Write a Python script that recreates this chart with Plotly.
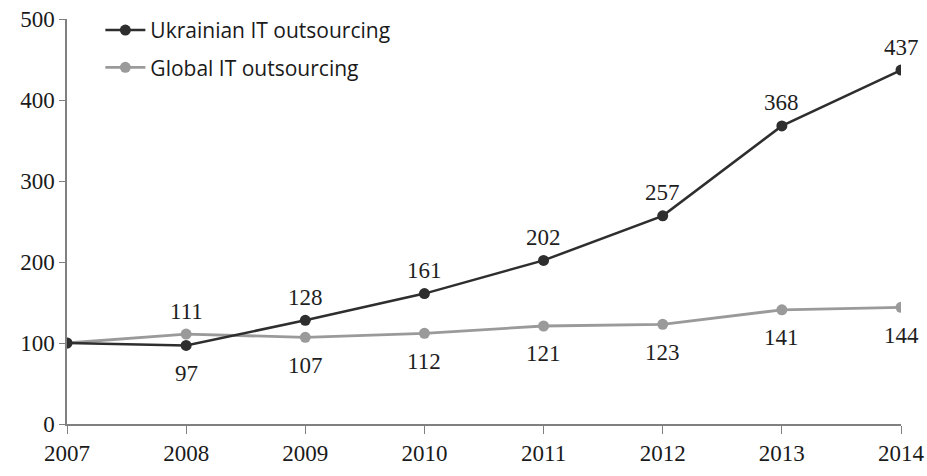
import plotly.graph_objects as go

years = [2007, 2008, 2009, 2010, 2011, 2012, 2013, 2014]
ukrainian = [100, 97, 128, 161, 202, 257, 368, 437]
global_it = [100, 111, 107, 112, 121, 123, 141, 144]
y_ticks = [0, 100, 200, 300, 400, 500]

# label placement: True = above the point, False = below
ukr_above = [None, False, True, True, True, True, True, True]
glb_above = [None, True, False, False, False, False, False, False]

serif = "Liberation Serif"
UKR_C = "#2e2e2e"
GLB_C = "#9a9a9a"

fig = go.Figure()
fig.add_trace(go.Scatter(
    x=years, y=global_it, mode="lines+markers", name="Global IT outsourcing",
    line=dict(color=GLB_C, width=2.8), marker=dict(color=GLB_C, size=11),
    legendgroup="g", legendrank=2,
))
fig.add_trace(go.Scatter(
    x=years, y=ukrainian, mode="lines+markers", name="Ukrainian IT outsourcing",
    line=dict(color=UKR_C, width=2.5), marker=dict(color=UKR_C, size=11),
    legendgroup="u", legendrank=1,
))

annotations = []
for xs, ys, flags in [(years, ukrainian, ukr_above), (years, global_it, glb_above)]:
    for x, y, a in zip(xs, ys, flags):
        if a is None:
            continue
        annotations.append(dict(
            x=x, y=y, xref="x", yref="y", text=str(y), showarrow=False,
            yshift=23 if a else -28, xanchor="center", yanchor="middle",
            font=dict(family=serif, size=23, color="#1e1e1e"),
        ))

fig.update_layout(
    width=927, height=476,
    margin=dict(l=67, r=26, t=19, b=52, autoexpand=False),
    paper_bgcolor="white", plot_bgcolor="white",
    showlegend=True,
    annotations=annotations,
    legend=dict(x=0.04, xanchor="left", y=1.0225, yanchor="top",
                font=dict(family="Open Sans", size=21, color="#1a1a1a"),
                tracegroupgap=7, bgcolor="rgba(0,0,0,0)", itemwidth=40),
    xaxis=dict(range=[2007, 2014], tickvals=years, ticktext=[str(y) for y in years],
               showgrid=False, zeroline=False, showline=True, linecolor="#808080", linewidth=1.5,
               ticks="outside", ticklen=8, tickcolor="#808080",
               tickfont=dict(family=serif, size=23, color="#1a1a1a")),
    yaxis=dict(range=[0, 500], tickvals=y_ticks,
               showgrid=False, zeroline=False, showline=True, linecolor="#808080", linewidth=1.5,
               ticks="outside", ticklen=6, tickcolor="#808080",
               tickfont=dict(family=serif, size=23, color="#1a1a1a")),
)
fig.write_html(
    "out.html",
    config={"displayModeBar": False},
    post_script="document.body.style.margin='0';document.documentElement.style.overflow='hidden';",
)
